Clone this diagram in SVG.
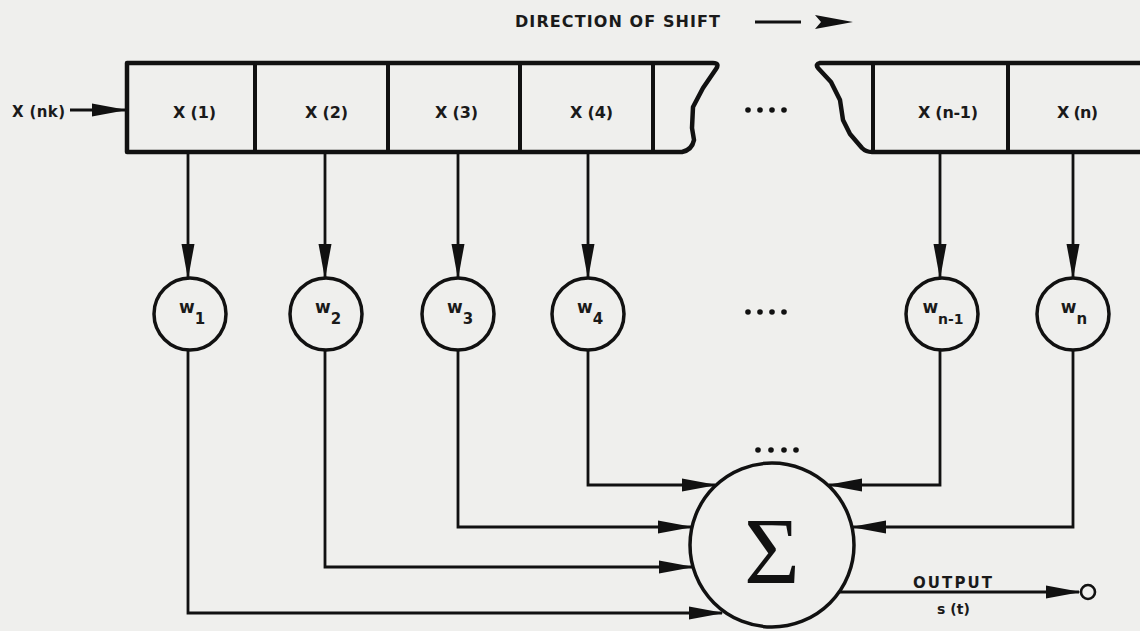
<svg xmlns="http://www.w3.org/2000/svg" width="1140" height="631" viewBox="0 0 1140 631">
<style>
.bg{fill:#efefed}
.reg{fill:none;stroke:#111;stroke-width:4.5;stroke-linejoin:round}
.div{stroke:#111;stroke-width:4}
.node{fill:none;stroke:#111;stroke-width:3.5}
.con{fill:none;stroke:#111;stroke-width:2.8}
.t{font-family:"DejaVu Sans",sans-serif;font-weight:bold;fill:#1a1a1a}
.lbl{font-size:16px}
.w{font-size:17px;text-anchor:middle}
.dot{fill:#111}
</style>
<defs>
<marker id="ah" markerUnits="userSpaceOnUse" markerWidth="40" markerHeight="16" viewBox="-36 -8 40 16" refX="0" refY="0" orient="auto">
<path d="M2,0 L-33,-6.5 L-33,6.5 Z" fill="#111"/>
</marker>
</defs>
<rect class="bg" x="0" y="0" width="1140" height="631"/>

<g id="direction">
<text class="t" x="515" y="27" font-size="16" textLength="205" lengthAdjust="spacing">DIRECTION OF SHIFT</text>
<line x1="755" y1="22" x2="801" y2="22" stroke="#111" stroke-width="3.2"/>
<path d="M815,15 L853,22 L815,29 L821,22 Z" fill="#111"/>
</g>

<g id="register">
<path class="reg" d="M127,63 L713,63 Q720,63 716,69 L703,88 L693,107 L692,128 L694,140 Q692,150 682,152 L127,152 Z"/>
<path class="reg" d="M1150,63 L820,63 Q815,64 818,68 L831,82 L840,100 L843,120 L850,134 L862,148 Q866,152 872,152 L1150,152"/>
<line class="div" x1="255" y1="63" x2="255" y2="152"/>
<line class="div" x1="388" y1="63" x2="388" y2="152"/>
<line class="div" x1="520" y1="63" x2="520" y2="152"/>
<line class="div" x1="653" y1="63" x2="653" y2="152"/>
<line class="div" x1="873" y1="63" x2="873" y2="152"/>
<line class="div" x1="1008" y1="63" x2="1008" y2="152"/>
</g>

<g id="cells-text">
<text class="t lbl" x="173" y="118" textLength="43" lengthAdjust="spacing">X (1)</text>
<text class="t lbl" x="305" y="118" textLength="43" lengthAdjust="spacing">X (2)</text>
<text class="t lbl" x="435" y="118" textLength="43" lengthAdjust="spacing">X (3)</text>
<text class="t lbl" x="570" y="118" textLength="43" lengthAdjust="spacing">X (4)</text>
<text class="t lbl" x="918" y="118" textLength="60" lengthAdjust="spacing">X (n-1)</text>
<text class="t lbl" x="1057" y="118" textLength="41" lengthAdjust="spacing">X (n)</text>
</g>

<g id="dots-register">
<circle class="dot" cx="748" cy="110" r="2.8"/>
<circle class="dot" cx="760" cy="110" r="2.8"/>
<circle class="dot" cx="772" cy="110" r="2.8"/>
<circle class="dot" cx="784" cy="110" r="2.8"/>
</g>

<g id="input">
<text class="t" x="12" y="117" font-size="15" textLength="53" lengthAdjust="spacing">X (nk)</text>
</g>

<g id="w1"><circle class="node" cx="190" cy="314" r="36"/><text class="t w" x="192" y="313">w<tspan dy="11" font-size="15">1</tspan></text></g>
<g id="w2"><circle class="node" cx="326" cy="314" r="36"/><text class="t w" x="328" y="313">w<tspan dy="11" font-size="15">2</tspan></text></g>
<g id="w3"><circle class="node" cx="458" cy="314" r="36"/><text class="t w" x="460" y="313">w<tspan dy="11" font-size="15">3</tspan></text></g>
<g id="w4"><circle class="node" cx="588" cy="314" r="36"/><text class="t w" x="590" y="313">w<tspan dy="11" font-size="15">4</tspan></text></g>
<g id="wn-1"><circle class="node" cx="942" cy="314" r="36"/><text class="t w" x="943" y="313">w<tspan dy="11" font-size="14">n-1</tspan></text></g>
<g id="wn"><circle class="node" cx="1073" cy="314" r="36"/><text class="t w" x="1074" y="313">w<tspan dy="11" font-size="15">n</tspan></text></g>

<g id="dots-weights">
<circle class="dot" cx="748" cy="312" r="2.8"/>
<circle class="dot" cx="760" cy="312" r="2.8"/>
<circle class="dot" cx="772" cy="312" r="2.8"/>
<circle class="dot" cx="784" cy="312" r="2.8"/>
</g>

<g id="sum">
<circle class="node" cx="772" cy="545" r="82"/>
<text x="772" y="584" text-anchor="middle" font-family="'Liberation Serif',serif" font-size="96" fill="#111">Σ</text>
</g>

<g id="dots-sum">
<circle class="dot" cx="758" cy="450" r="2.8"/>
<circle class="dot" cx="771" cy="450" r="2.8"/>
<circle class="dot" cx="784" cy="450" r="2.8"/>
<circle class="dot" cx="796" cy="450" r="2.8"/>
</g>

<g id="output-node">
<circle cx="1088" cy="592" r="7" fill="none" stroke="#111" stroke-width="2.6"/>
<text class="t" x="913" y="588" font-size="15" textLength="79" lengthAdjust="spacing">OUTPUT</text>
<text class="t" x="937" y="614" font-size="14" textLength="33" lengthAdjust="spacing">s (t)</text>
</g>

<g id="connectors">
<line class="con" x1="70" y1="110" x2="125" y2="110" marker-end="url(#ah)"/>
<line class="con" x1="188" y1="152" x2="188" y2="277" marker-end="url(#ah)"/>
<line class="con" x1="325" y1="152" x2="325" y2="277" marker-end="url(#ah)"/>
<line class="con" x1="458" y1="152" x2="458" y2="277" marker-end="url(#ah)"/>
<line class="con" x1="588" y1="152" x2="588" y2="277" marker-end="url(#ah)"/>
<line class="con" x1="940" y1="152" x2="940" y2="277" marker-end="url(#ah)"/>
<line class="con" x1="1073" y1="152" x2="1073" y2="277" marker-end="url(#ah)"/>
<polyline class="con" points="188,350 188,613 722,613" marker-end="url(#ah)"/>
<polyline class="con" points="325,350 325,567 692,567" marker-end="url(#ah)"/>
<polyline class="con" points="458,350 458,527 691,527" marker-end="url(#ah)"/>
<polyline class="con" points="588,350 588,485 715,485" marker-end="url(#ah)"/>
<polyline class="con" points="940,350 940,485 829,485" marker-end="url(#ah)"/>
<polyline class="con" points="1073,350 1073,527 853,527" marker-end="url(#ah)"/>
<line class="con" x1="839" y1="592" x2="1079" y2="592" marker-end="url(#ah)"/>
</g>
</svg>
